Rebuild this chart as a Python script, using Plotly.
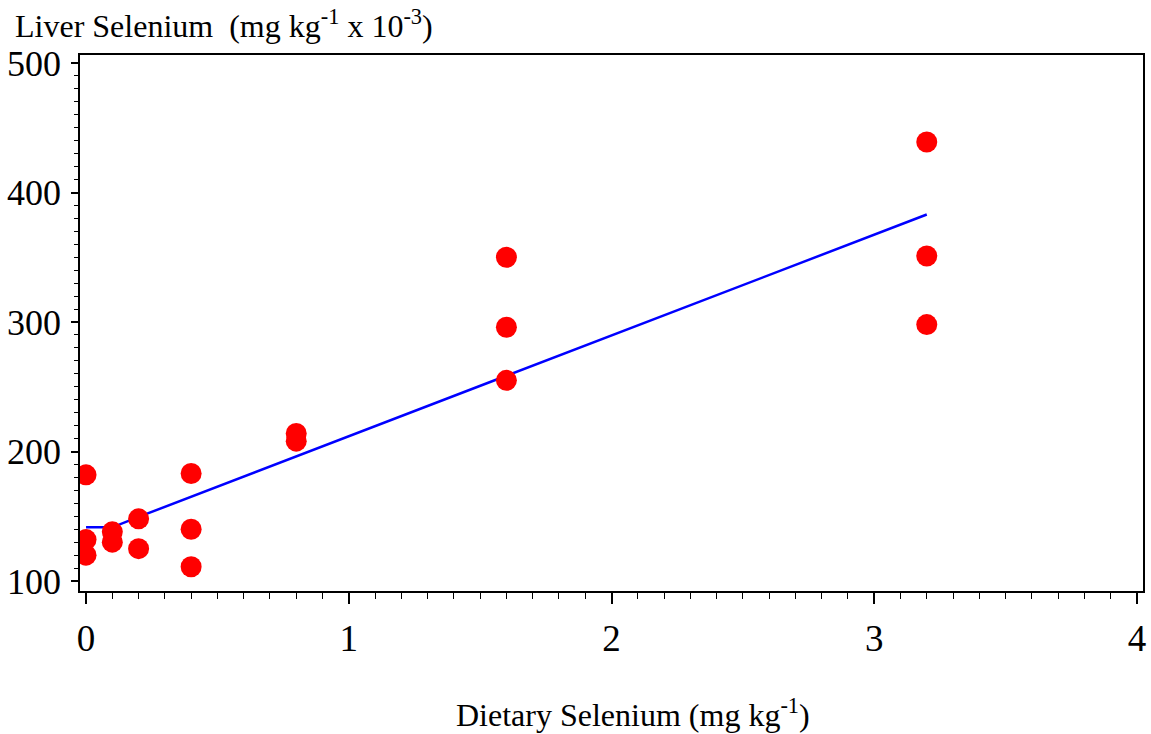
import plotly.graph_objects as go

diet_x = [0, 0, 0, 0.1, 0.1, 0.2, 0.2, 0.4, 0.4, 0.4, 0.8, 0.8, 1.6, 1.6, 1.6, 3.2, 3.2, 3.2]
liver_y = [182, 132, 120, 138, 130, 148, 125, 183, 140, 111, 214, 208, 350, 296, 255, 439, 351, 298]

# Fitted broken-line model
fit_x = [0, 0.1, 0.2, 0.4, 0.8, 1.6, 3.2]
fit_y = [141.5, 141.5, 149.5, 165, 196, 258.5, 383]

x_ticks = [0, 1, 2, 3, 4]
y_ticks = [100, 200, 300, 400, 500]

FONT = "Liberation Serif"

fig = go.Figure()
fig.add_trace(go.Scatter(x=fit_x, y=fit_y, mode="lines",
                         line=dict(color="#0000FF", width=2.5), showlegend=False))
fig.add_trace(go.Scatter(x=diet_x, y=liver_y, mode="markers",
                         marker=dict(color="#FF0000", size=21, line=dict(width=0)),
                         showlegend=False))

fig.update_layout(
    width=1151, height=734,
    margin=dict(l=80, r=8, t=55, b=143),
    paper_bgcolor="white", plot_bgcolor="white",
    font=dict(family=FONT, color="black"),
    xaxis=dict(range=[-0.023, 4.023], tickvals=x_ticks, ticktext=[str(v) for v in x_ticks],
               showline=True, linecolor="black", linewidth=1.5, mirror=True,
               ticks="outside", ticklen=11, tickwidth=1.5, tickcolor="black",
               ticklabelstandoff=3, automargin=False,
               minor=dict(dtick=0.1, tick0=0, ticks="outside", ticklen=6, tickwidth=1.2, tickcolor="black"),
               showgrid=False, zeroline=False,
               tickfont=dict(family=FONT, size=37, color="black")),
    yaxis=dict(range=[92.3, 506.2], tickvals=y_ticks, ticktext=[str(v) for v in y_ticks],
               showline=True, linecolor="black", linewidth=1.5, mirror=True,
               ticks="outside", ticklen=7, tickwidth=1.5, tickcolor="black",
               ticklabelstandoff=3, automargin=False,
               minor=dict(dtick=10, tick0=0, ticks="outside", ticklen=4, tickwidth=1.2, tickcolor="black"),
               showgrid=False, zeroline=False,
               tickfont=dict(family=FONT, size=36, color="black")),
    showlegend=False,
)

fig.add_annotation(text="Liver Selenium  (mg kg<sup>-1</sup> x 10<sup>-3</sup>)",
                   xref="paper", yref="paper", x=-0.063, y=1.058,
                   xanchor="left", yanchor="middle", showarrow=False,
                   font=dict(family=FONT, size=32, color="black"))
fig.add_annotation(text="Dietary Selenium (mg kg<sup>-1</sup>)",
                   xref="paper", yref="paper", x=0.52, y=-0.2276,
                   xanchor="center", yanchor="middle", showarrow=False,
                   font=dict(family=FONT, size=32, color="black"))

fig.write_html("out.html", config={"displayModeBar": False},
               post_script="document.body.style.margin='0';document.body.style.padding='0';")
